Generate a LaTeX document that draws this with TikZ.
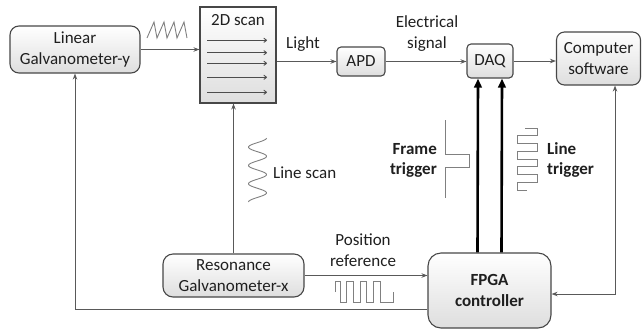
\documentclass[tikz,border=0pt]{standalone}
\usepackage{fontspec}
\setmainfont{Carlito}
\usetikzlibrary{arrows.meta}
\begin{document}
\begin{tikzpicture}[x=1pt,y=-1pt,
  every node/.style={font=\fontsize{17}{21}\selectfont, text=black!88},
  blk/.style={draw=black!72, line width=1.1pt, top color=white, bottom color=black!13, inner sep=0pt, align=center},
  conn/.style={draw=black!65, line width=0.9pt, -{Stealth[length=6pt,width=4.5pt]}},
  biconn/.style={draw=black!65, line width=0.9pt, {Stealth[length=6pt,width=4.5pt]}-{Stealth[length=6pt,width=4.5pt]}},
  bus/.style={draw=black, line width=2.6pt, -{Triangle[length=9pt,width=7.5pt]}},
  scanarrow/.style={draw=black!70, line width=0.9pt, -{To[length=3.5pt,width=5pt]}},
  wave/.style={draw=black!50, line width=0.9pt},
  lbl/.style={inner sep=0pt, align=center}
]
\useasboundingbox (0,0) rectangle (642,333);

% blocks
\node[blk, rounded corners=9pt, minimum width=130pt, minimum height=47pt] (lg) at (75,49.5) {Linear\\Galvanometer-y};
\node[blk, minimum width=76pt, minimum height=96pt] (scan) at (238,55) {};
\node[lbl] (scant) at (238,20) {2D scan};
\node[blk, rounded corners=4pt, minimum width=48pt, minimum height=29pt] (apd) at (361,61.5) {APD};
\node[blk, rounded corners=4pt, minimum width=46pt, minimum height=34pt] (daq) at (490,61) {DAQ};
\node[blk, rounded corners=8pt, minimum width=84pt, minimum height=53pt] (cs) at (598.5,58.5) {Computer\\software};
\node[blk, rounded corners=10pt, minimum width=141pt, minimum height=43pt] (res) at (233.5,275.5) {Resonance\\Galvanometer-x};
\node[blk, rounded corners=13pt, minimum width=123pt, minimum height=75pt, font=\fontsize{17}{21}\selectfont\bfseries] (fpga) at (489.5,290.5) {FPGA\\controller};

% scan lines inside 2D scan
\foreach \yy in {40.3,52.7,63.3,77.3,92.3}
  \draw[scanarrow] (207,\yy) -- (267,\yy);

% labels
\node[lbl] (light) at (303,44) {Light};
\node[lbl] (elec) at (427,34) {Electrical\\signal};
\node[lbl, anchor=east, align=right, font=\fontsize{17}{20}\selectfont\bfseries] (ftrig) at (437,160) {Frame\\trigger};
\node[lbl, anchor=west, align=left, font=\fontsize{17}{20}\selectfont\bfseries] (ltrig) at (547,160) {Line\\trigger};
\node[lbl, anchor=west] (lscan) at (273,173) {Line scan};
\node[lbl] (posref) at (363,250) {Position\\reference};

% connectors
\draw[conn] (lg.east) -- (lg.east -| scan.west);
\draw[conn] (apd.west -| scan.east) -- (apd.west);
\draw[conn] (apd.east) -- (apd.east -| daq.west);
\draw[conn] (daq.east) -- (daq.east -| cs.west);
\draw[conn] (res.north) -- (res.north |- scan.south);
\draw[conn] (res.east) -- (res.east -| fpga.west);
\draw[conn] ([yshift=-18.5pt]fpga.west) -| (lg.south);
\draw[biconn] ([xshift=16.5pt]cs.south) |- ([yshift=-3.5pt]fpga.east);
\draw[bus] ([xshift=-12pt]fpga.north) -- ([xshift=-12pt]daq.south);
\draw[bus] ([xshift=12pt]fpga.north) -- ([xshift=12pt]daq.south);

% waveforms
\draw[wave] (147,38) -- (154,22) -- (157,38) -- (164,22) -- (167,38) -- (174,22) -- (177,38) -- (184,22) -- (187,38);
\draw[wave] plot[domain=0:1260, samples=140, variable=\t] ({257.5+9*cos(\t)}, {138+\t/1260*64});
\draw[wave] (445,120) -- (445,154) -- (469,154) -- (469,167) -- (445,167) -- (445,198);
\draw[wave] (525,128) -- (537,128) -- (537,135.75) -- (517,135.75) -- (517,143.5) -- (537,143.5) -- (537,151.25) -- (517,151.25) -- (517,159) -- (537,159) -- (537,166.75) -- (517,166.75) -- (517,174.5) -- (537,174.5) -- (537,182.25) -- (517,182.25) -- (517,190) -- (527,190);
\draw[wave] (335,292) -- (335,281) -- (340,281) -- (340,302) -- (346.7,302) -- (346.7,281) -- (353.3,281) -- (353.3,302) -- (360,302) -- (360,281) -- (366.7,281) -- (366.7,302) -- (373.3,302) -- (373.3,281) -- (380,281) -- (380,302) -- (393.3,302) -- (393.3,292);
\end{tikzpicture}
\end{document}
